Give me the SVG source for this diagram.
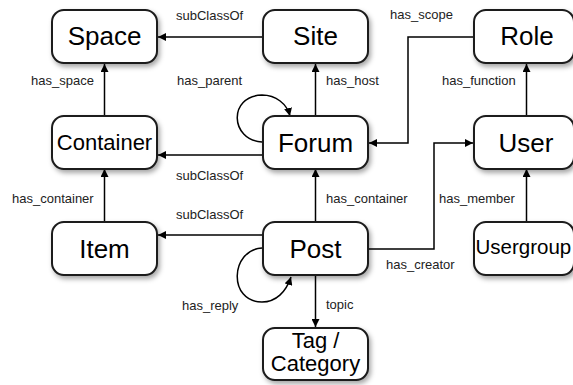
<svg xmlns="http://www.w3.org/2000/svg" width="573" height="385" viewBox="0 0 573 385">
  <defs>
    <filter id="shadow" x="-20%" y="-20%" width="150%" height="160%">
      <feDropShadow dx="2" dy="3" stdDeviation="2.5" flood-color="#000" flood-opacity="0.35"/>
    </filter>
    <marker id="arrow" viewBox="0 0 10 10" refX="10" refY="5" markerWidth="8" markerHeight="8" markerUnits="userSpaceOnUse" orient="auto">
      <path d="M0,0 L10,5 L0,10 z" fill="#000"/>
    </marker>
    <style>
      .node rect { fill: #fff; stroke: #1a1a1a; stroke-width: 2; filter: url(#shadow); }
      .node text { font-family: "Liberation Sans", Arial, sans-serif; font-size: 26px; fill: #000; text-anchor: middle; }
      .node text.small { font-size: 22px; }
      .edge { fill: none; stroke: #000; stroke-width: 1.5; marker-end: url(#arrow); }
      .label { font-family: "Liberation Sans", Arial, sans-serif; font-size: 13px; fill: #222; }
    </style>
  </defs>

  <!-- connectors -->
  <g id="connectors">
    <path class="edge" d="M263,37 H158"/>
    <path class="edge" d="M104.5,116 V64"/>
    <path class="edge" d="M315.5,116 V64"/>
    <path class="edge" d="M263,155 H158"/>
    <path class="edge" d="M474,37 H408 V143 H369"/>
    <path class="edge" d="M526.5,116 V64"/>
    <path class="edge" d="M315.5,222 V169"/>
    <path class="edge" d="M263,235 H158"/>
    <path class="edge" d="M104.5,222 V169"/>
    <path class="edge" d="M368,249 H434 V143 H473"/>
    <path class="edge" d="M526.5,222 V169"/>
    <path class="edge" d="M315.5,275 V327"/>
    <path class="edge" d="M262,142 C230,140 228,96 262,95 C276,95 287,104 290,116"/>
    <path class="edge" d="M262,248 C230,250 228,302 262,302 C276,302 286,292 291,277"/>

    <text class="label" x="176" y="19.5">subClassOf</text>
    <text class="label" x="390" y="18.5">has_scope</text>
    <text class="label" x="31" y="84.5">has_space</text>
    <text class="label" x="177" y="84.5">has_parent</text>
    <text class="label" x="326" y="84.5">has_host</text>
    <text class="label" x="442" y="84.5">has_function</text>
    <text class="label" x="176" y="179.5">subClassOf</text>
    <text class="label" x="12" y="202.5">has_container</text>
    <text class="label" x="326" y="202.5">has_container</text>
    <text class="label" x="439" y="202.5">has_member</text>
    <text class="label" x="176" y="218.5">subClassOf</text>
    <text class="label" x="386" y="268.5">has_creator</text>
    <text class="label" x="326" y="308.5">topic</text>
    <text class="label" x="182" y="309.5">has_reply</text>
  </g>

  <!-- nodes -->
  <g id="space" class="node"><rect x="52" y="10" width="105" height="53" rx="12"/><text x="104.5" y="45">Space</text></g>
  <g id="site" class="node"><rect x="263" y="10" width="105" height="53" rx="12"/><text x="315.5" y="45">Site</text></g>
  <g id="role" class="node"><rect x="474" y="10" width="100" height="53" rx="12"/><text x="527" y="45">Role</text></g>

  <g id="container" class="node"><rect x="52" y="116" width="105" height="53" rx="12"/><text class="small" x="104.5" y="150">Container</text></g>
  <g id="forum" class="node"><rect x="263" y="116" width="105" height="53" rx="12"/><text x="315.5" y="152">Forum</text></g>
  <g id="user" class="node"><rect x="474" y="116" width="100" height="53" rx="12"/><text x="526" y="152">User</text></g>

  <g id="item" class="node"><rect x="52" y="222" width="105" height="53" rx="12"/><text x="104.5" y="258">Item</text></g>
  <g id="post" class="node"><rect x="263" y="222" width="105" height="53" rx="12"/><text x="315.5" y="258">Post</text></g>
  <g id="usergroup" class="node"><rect x="474" y="222" width="100" height="53" rx="12"/><text x="475.5" y="254" style="font-size:20.5px;text-anchor:start">Usergroup</text></g>

  <g id="tag-category" class="node"><rect x="263" y="328" width="105" height="52" rx="12"/><text class="small" x="315.5" y="347.5">Tag /</text><text class="small" x="315.5" y="371">Category</text></g>
</svg>
